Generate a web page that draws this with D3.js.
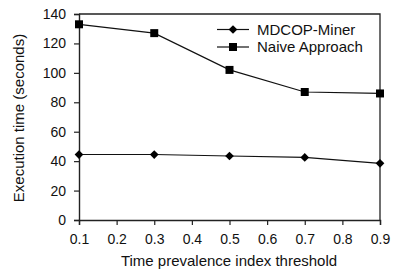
<!DOCTYPE html>
<html>
<head>
<meta charset="utf-8">
<script src="https://cdn.jsdelivr.net/npm/d3@7"></script>
<style>
body { margin: 0; background: #fff; }
text { font-family: "Liberation Sans", Arial, sans-serif; fill: #111; }
</style>
</head>
<body>
<div id="chart"></div>
<script>
var thresholds = [0.1, 0.3, 0.5, 0.7, 0.9];
var mdcopMiner = [44.5, 44.5, 43.5, 42.5, 38.5];
var naiveApproach = [133, 127, 102, 87, 86];
var xTicks = [0.1, 0.2, 0.3, 0.4, 0.5, 0.6, 0.7, 0.8, 0.9];
var yTicks = [0, 20, 40, 60, 80, 100, 120, 140];

var w_svg = 393, h_svg = 272;
var m_left = 79, m_right = 380, m_top = 14, m_bottom = 220;

var svg = d3.select("#chart").append("svg")
  .attr("width", w_svg).attr("height", h_svg);

var x = d3.scaleLinear().domain([0.1, 0.9]).range([m_left, m_right]);
var y = d3.scaleLinear().domain([0, 140]).range([m_bottom, m_top]);

// frame top + right
svg.append("path")
  .attr("d", "M" + m_left + "," + m_top + "H" + m_right + "V" + m_bottom)
  .attr("fill", "none").attr("stroke", "#222").attr("stroke-width", 1.3);

var xAxis = svg.append("g").attr("transform", "translate(0," + m_bottom + ")")
  .call(d3.axisBottom(x).tickValues(xTicks).tickSize(5).tickPadding(9).tickFormat(d3.format(".1f")));
var yAxis = svg.append("g").attr("transform", "translate(" + m_left + ",0)")
  .call(d3.axisLeft(y).tickValues(yTicks).tickSize(5).tickPadding(8));

[xAxis, yAxis].forEach(function(a) {
  a.select(".domain").attr("stroke", "#222").attr("stroke-width", 1.4);
  a.selectAll(".tick line").attr("stroke", "#222").attr("stroke-width", 1.2);
  a.selectAll("text").style("font-size", "14px").attr("fill", "#111");
});

svg.append("text")
  .attr("x", 229).attr("y", 266)
  .attr("text-anchor", "middle").style("font-size", "15px")
  .text("Time prevalence index threshold");

svg.append("text")
  .attr("transform", "translate(24,118) rotate(-90)")
  .attr("text-anchor", "middle").style("font-size", "15px")
  .text("Execution time (seconds)");

var line = d3.line()
  .x(function(d) { return x(d[0]); })
  .y(function(d) { return y(d[1]); });

var diamond = d3.symbol().type(d3.symbolSquare).size(38);
var square = d3.symbol().type(d3.symbolSquare).size(64);

var series = [
  { name: "MDCOP-Miner", values: mdcopMiner, sym: diamond, rot: 45 },
  { name: "Naive Approach", values: naiveApproach, sym: square, rot: 0 }
];

series.forEach(function(s) {
  var pts = thresholds.map(function(t, i) { return [t, s.values[i]]; });
  svg.append("path").datum(pts)
    .attr("d", line).attr("fill", "none").attr("stroke", "#111").attr("stroke-width", 1.2);
  svg.selectAll(null).data(pts).enter().append("path")
    .attr("d", s.sym)
    .attr("transform", function(d) { return "translate(" + x(d[0]) + "," + y(d[1]) + ") rotate(" + s.rot + ")"; })
    .attr("fill", "#000");
});

// legend
var legend = svg.append("g");
series.forEach(function(s, i) {
  var ly = 29.5 + i * 17.5;
  legend.append("line").attr("x1", 217).attr("x2", 249).attr("y1", ly).attr("y2", ly)
    .attr("stroke", "#111").attr("stroke-width", 1.2);
  legend.append("path").attr("d", s.sym)
    .attr("transform", "translate(233," + ly + ") rotate(" + s.rot + ")").attr("fill", "#000");
  legend.append("text").attr("x", 257).attr("y", ly + 5).style("font-size", "15px").text(s.name);
});
</script>
</body>
</html>
